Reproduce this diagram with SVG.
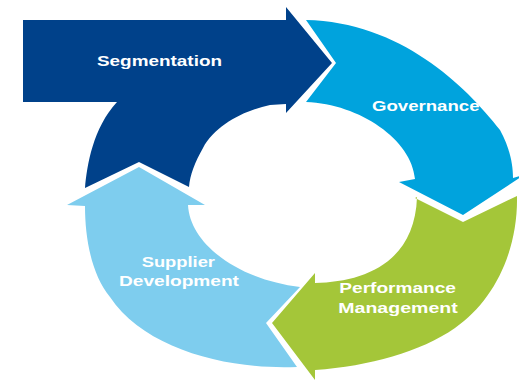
<svg xmlns="http://www.w3.org/2000/svg" width="519" height="381" viewBox="0 0 519 381">
<style>
.lbl{font-family:"Liberation Sans",Arial,sans-serif;font-weight:bold;font-size:14.5px;fill:#ffffff}
</style>
<rect width="519" height="381" fill="#ffffff"/>
<g id="segmentation">
<path fill="#00418a" d="M23,20 L286,20 L286,7 L332,63 L286,113 L286,104 L270,105 C245,110 215,125 203,148 C195,162 190,175 189,187 L139,162 L85,188 C87,165 93,128 117,102 L23,102 Z"/>
<text class="lbl" x="97" y="65.7" textLength="125" lengthAdjust="spacingAndGlyphs">Segmentation</text>
</g>
<g id="governance">
<path fill="#00a3dd" d="M306,20 C400,22 465,85 500,130 C510,148 513,165 513,178 L524,175 L463,215 L399,182 L415,179 C412,140 360,104 306,102 L336,63 Z"/>
<text class="lbl" x="372" y="111" textLength="107.5" lengthAdjust="spacingAndGlyphs">Governance</text>
</g>
<g id="performance-management">
<path fill="#a4c639" d="M415,198 L463,222 L517,196 C518,250 495,300 455,328 C420,352 370,366 315,370 L315,380 L272,323 L315,273 L315,283 C365,282 415,262 417,197 Z"/>
<text class="lbl" x="339.3" y="292.7" textLength="116.7" lengthAdjust="spacingAndGlyphs">Performance</text>
<text class="lbl" x="338.3" y="312.7" textLength="119.4" lengthAdjust="spacingAndGlyphs">Management</text>
</g>
<g id="supplier-development">
<path fill="#7ecdee" d="M300,287 L266,323 L297,367 C230,370 145,350 110,297 C92,275 85,240 85,206 L67,205 L139,167 L205,205 L188,205 C190,245 240,280 300,287 Z"/>
<text class="lbl" x="141.7" y="266.7" textLength="73.3" lengthAdjust="spacingAndGlyphs">Supplier</text>
<text class="lbl" x="119" y="285.5" textLength="120" lengthAdjust="spacingAndGlyphs">Development</text>
</g>
</svg>
